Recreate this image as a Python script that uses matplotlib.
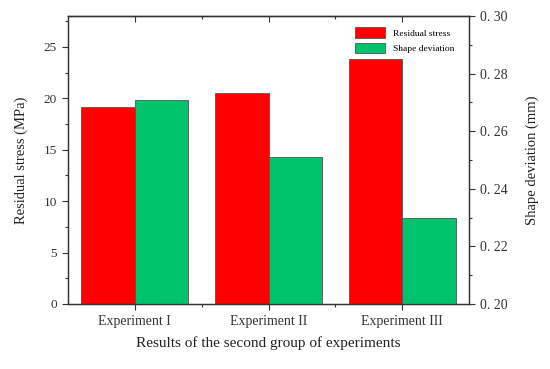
import matplotlib.pyplot as plt
from matplotlib.ticker import MultipleLocator, FuncFormatter, FixedLocator
import numpy as np

plt.rcParams['font.family'] = ['Liberation Serif', 'DejaVu Serif']

experiments = ['Experiment I', 'Experiment II', 'Experiment III']
residual_stress = [19.2, 20.5, 23.8]      # MPa
shape_deviation = [0.271, 0.251, 0.230]   # mm

RED = '#ff0000'
GREEN = '#00c46c'
INK = '#333333'

fig = plt.figure(figsize=(5.5, 3.69), dpi=100)
ax = fig.add_axes([68 / 550, 1 - 304 / 369, 401 / 550, 288 / 369])
ax2 = ax.twinx()

x = np.arange(1, len(experiments) + 1)
w = 0.4
b1 = ax.bar(x - w / 2, residual_stress, w, color=RED, edgecolor='#555555', linewidth=0.6,
            zorder=2)
b2 = ax2.bar(x + w / 2, shape_deviation, w, color=GREEN, edgecolor='#555555', linewidth=0.6,
             zorder=2)

ax.set_xlim(0.5, 3.5)
ax.set_ylim(0, 28)
ax2.set_ylim(0.20, 0.30)

ax.set_xticks(x)
ax.set_xticklabels(experiments)
ax.xaxis.set_minor_locator(FixedLocator([1.5, 2.5]))

ax.yaxis.set_major_locator(MultipleLocator(5))
ax.yaxis.set_minor_locator(MultipleLocator(2.5))
ax2.yaxis.set_major_locator(MultipleLocator(0.02))
ax2.yaxis.set_minor_locator(MultipleLocator(0.01))
ax2.yaxis.set_major_formatter(FuncFormatter(lambda v, p: '0. %02d' % round(v * 100)))

# left axis ticks
ax.tick_params(axis='y', which='major', direction='out', length=4, width=0.8,
               labelsize=9.5, colors=INK, pad=4)
ax.tick_params(axis='y', which='minor', direction='out', length=2.5, width=0.8, colors=INK)
# bottom ticks out, top ticks in (mirrored)
ax.tick_params(axis='x', which='major', bottom=True, top=False, direction='out', length=4,
               width=0.8, labelsize=10, colors=INK, pad=4)
ax.tick_params(axis='x', which='minor', bottom=True, top=False, direction='out', length=2.5,
               width=0.8, colors=INK)
top = ax.secondary_xaxis('top')
top.set_xticks(x)
top.set_xticklabels([])
top.xaxis.set_minor_locator(FixedLocator([1.5, 2.5]))
top.tick_params(axis='x', which='major', direction='in', length=4, width=0.8, colors=INK)
top.tick_params(axis='x', which='minor', direction='in', length=2.5, width=0.8, colors=INK)
top.spines['top'].set_linewidth(0.9)
top.spines['top'].set_color(INK)

ax2.tick_params(axis='y', which='major', direction='out', length=4, width=0.8,
                labelsize=10, colors=INK, pad=4)
ax2.tick_params(axis='y', which='minor', direction='out', length=2.5, width=0.8, colors=INK)
for a in (ax, ax2):
    for s in a.spines.values():
        s.set_linewidth(0.9)
        s.set_color(INK)

ax.set_ylabel('Residual stress (MPa)', fontsize=10.5, color='#222222', labelpad=11)
ax2.set_ylabel('Shape deviation (mm)', fontsize=10.5, color='#222222', labelpad=13)
ax.set_xlabel('Results of the second group of experiments', fontsize=11, color='#222222',
              labelpad=6)

ax.legend([b1, b2], ['Residual stress', 'Shape deviation'], loc='upper right',
          bbox_to_anchor=(0.985, 0.99), frameon=False, fontsize=6.8, handlelength=3.1,
          handleheight=1.3, handletextpad=0.9, labelspacing=0.55)

fig.savefig('out.png', dpi=100)
